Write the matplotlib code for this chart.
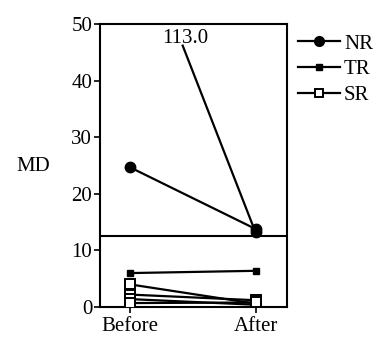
import matplotlib
matplotlib.use("Agg")
import matplotlib.pyplot as plt
from matplotlib.lines import Line2D

plt.rcParams['font.family'] = ['Liberation Serif', 'DejaVu Serif']

categories = ["Before", "After"]
nr_before = [24.7]
nr_after = [13.8]
nr_outlier_before = 113.0
nr_outlier_after = 13.2
tr_before = [6.0]
tr_after = [6.4]
sr_before = [4.0, 2.2, 1.4, 0.7]
sr_after = [0.6, 1.2, 0.4, 0.8]
yticks = [0, 10, 20, 30, 40, 50]
break_level = 12.5

FS = 15
fig = plt.figure(figsize=(3.81, 3.40), dpi=100)
ax = fig.add_axes([0.262, 0.097, 0.491, 0.832])

xs = [0, 1]
lw = 1.6
for b, a in zip(sr_before, sr_after):
    ax.plot(xs, [b, a], color='black', lw=lw, marker='s', ms=6.5,
            mfc='white', mec='black', mew=1.4, zorder=3)
for b, a in zip(tr_before, tr_after):
    ax.plot(xs, [b, a], color='black', lw=lw, marker='s', ms=5,
            mfc='black', mec='black', zorder=4)
for b, a in zip(nr_before, nr_after):
    ax.plot(xs, [b, a], color='black', lw=lw, marker='o', ms=7.5,
            mfc='black', mec='black', zorder=5)

# outlier drawn from its label position (axis break)
lab_x, lab_y = 0.42, 46.2
ax.plot([lab_x, 1], [lab_y, nr_outlier_after], color='black', lw=lw, zorder=5)
ax.plot([1], [nr_outlier_after], marker='o', ms=7.5, color='black', zorder=5)
ax.text(lab_x + 0.02, lab_y - 0.5, f"{nr_outlier_before:.1f}", ha='center',
        va='bottom', fontsize=FS)

ax.axhline(break_level, color='black', lw=1.5)

ax.set_xlim(-0.24, 1.25)
ax.set_ylim(0, 50)
ax.set_xticks(xs)
ax.set_xticklabels(categories, fontsize=FS)
ax.set_yticks(yticks)
ax.set_yticklabels([str(t) for t in yticks], fontsize=FS)
ax.tick_params(direction='out', length=4, width=1.2, pad=1.5)
ax.tick_params(axis='x', pad=3.5)
for s in ax.spines.values():
    s.set_linewidth(1.5)

fig.text(0.087, 0.509, "MD", fontsize=FS, ha='center', va='center')

handles = [
    Line2D([], [], color='black', lw=lw, marker='o', ms=7, mfc='black'),
    Line2D([], [], color='black', lw=lw, marker='s', ms=4.5, mfc='black'),
    Line2D([], [], color='black', lw=lw, marker='s', ms=6, mfc='white', mew=1.4),
]
ax.legend(handles, ["NR", "TR", "SR"], loc='upper left',
          bbox_to_anchor=(1.06, 0.965), frameon=False, fontsize=FS,
          handlelength=2.0, handletextpad=0.2, labelspacing=0.3,
          borderaxespad=0, borderpad=0)

fig.savefig("out.png", dpi=100)
